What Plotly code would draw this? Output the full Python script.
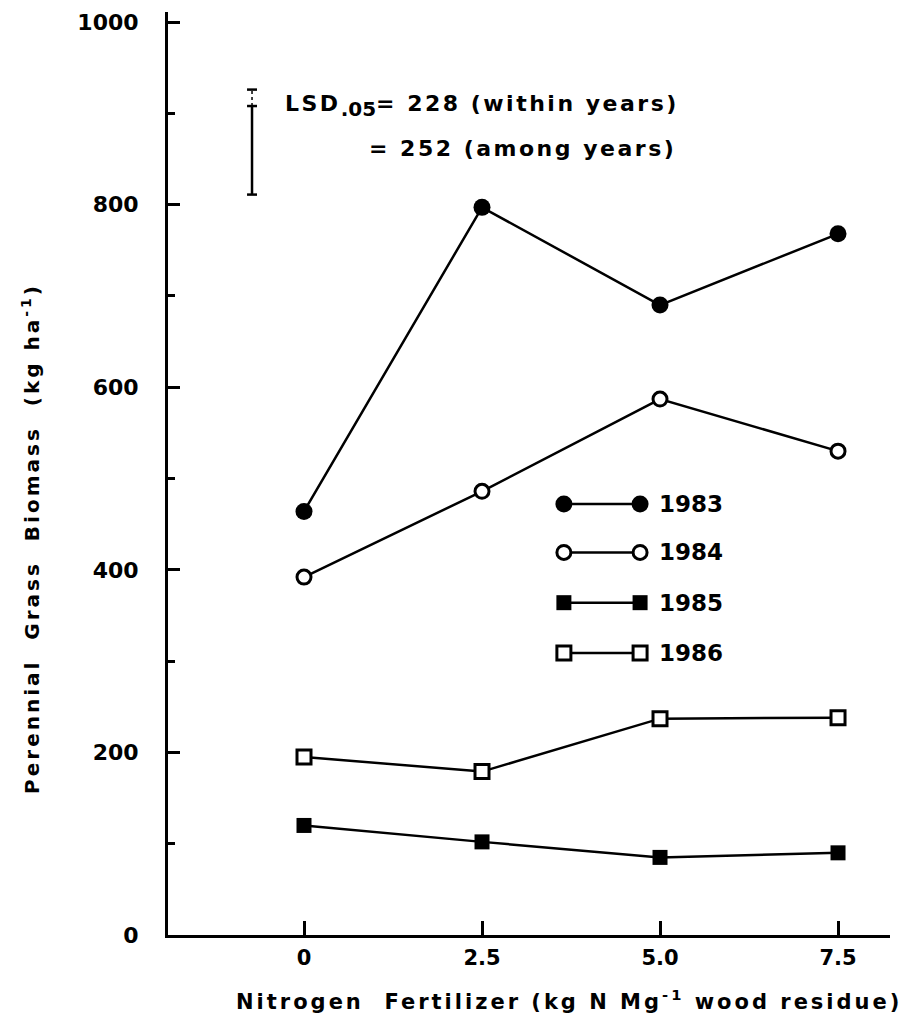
import plotly.graph_objects as go

# ---- data ----
nitrogen = [0, 2.5, 5.0, 7.5]
tick_labels = ["0", "2.5", "5.0", "7.5"]
years = ["1983", "1984", "1985", "1986"]
biomass_1983 = [464, 797, 690, 768]
biomass_1984 = [392, 486, 587, 530]
biomass_1985 = [120, 102, 85, 90]
biomass_1986 = [195, 179, 237, 238]
y_ticks = [0, 200, 400, 600, 800, 1000]

# LSD bar (data coordinates)
lsd_x = -0.73
lsd_low, lsd_mid, lsd_top = 811, 908, 926

# ---- styles ----
FONT = "DejaVu Sans"
styles = {
    "1983": dict(symbol="circle", size=17, color="black", line=dict(width=0, color="black")),
    "1984": dict(symbol="circle", size=14, color="white", line=dict(width=3, color="black")),
    "1985": dict(symbol="square", size=15, color="black", line=dict(width=0, color="black")),
    "1986": dict(symbol="square", size=14, color="white", line=dict(width=3, color="black")),
}
series = {"1983": biomass_1983, "1984": biomass_1984, "1985": biomass_1985, "1986": biomass_1986}

fig = go.Figure()
for yr in years:
    fig.add_trace(go.Scatter(x=nitrogen, y=series[yr], mode="lines+markers",
                             line=dict(color="black", width=2.5),
                             marker=styles[yr], showlegend=False, cliponaxis=False))

# custom legend (positions in data units)
leg_x0, leg_x1 = 3.65, 4.72
leg_rows = [472, 419, 364, 309]
for yr, ly in zip(years, leg_rows):
    fig.add_trace(go.Scatter(x=[leg_x0, leg_x1], y=[ly, ly], mode="lines+markers",
                             line=dict(color="black", width=2.5),
                             marker=styles[yr], showlegend=False))
    fig.add_annotation(x=4.96, y=ly, text=yr, showarrow=False, xanchor="left",
                       yanchor="middle",
                       font=dict(family=FONT, size=23, color="black", weight="bold"))

# LSD bar
fig.add_shape(type="line", x0=lsd_x, x1=lsd_x, y0=lsd_low, y1=lsd_mid,
              line=dict(color="black", width=2.5))
fig.add_shape(type="line", x0=lsd_x, x1=lsd_x, y0=lsd_mid, y1=lsd_top,
              line=dict(color="black", width=1.5, dash="dot"))
for yy in (lsd_low, lsd_mid, lsd_top):
    fig.add_shape(type="line", x0=lsd_x - 0.07, x1=lsd_x + 0.07, y0=yy, y1=yy,
                  line=dict(color="black", width=2.5))

sp = '<span style="letter-spacing:2.5px">'
fig.add_annotation(x=-0.3, y=908,
                   text=sp + "LSD</span><sub><span style=\"font-size:20px\">.05</span></sub>" + sp + "= 228 (within years)</span>",
                   showarrow=False, xanchor="left", yanchor="middle",
                   font=dict(family=FONT, size=22, color="black", weight="bold"))
fig.add_annotation(x=0.88, y=862, text=sp + "= 252 (among years)</span>",
                   showarrow=False, xanchor="left", yanchor="middle",
                   font=dict(family=FONT, size=22, color="black", weight="bold"))

# axis titles
fig.add_annotation(xref="paper", yref="paper", x=1.02, y=-0.07,
                   text='<span style="letter-spacing:3px">Nitrogen  Fertilizer (kg N Mg<sup>-1</sup> wood residue)</span>',
                   showarrow=False, xanchor="right", yanchor="middle",
                   font=dict(family=FONT, size=21, color="black", weight="bold"))
fig.add_annotation(xref="paper", yref="paper", x=-0.19, y=0.43,
                   text='<span style="letter-spacing:3px">Perennial  Grass  Biomass  (kg ha<sup>-1</sup>)</span>',
                   textangle=-90, showarrow=False, xanchor="center", yanchor="middle",
                   font=dict(family=FONT, size=20, color="black", weight="bold"))

fig.update_layout(
    width=904, height=1009,
    margin=dict(l=160, r=22, t=2, b=82),
    paper_bgcolor="white", plot_bgcolor="white",
    xaxis=dict(range=[-1.91, 8.23], showline=True, linewidth=3, linecolor="black",
               ticks="inside", ticklen=14, tickwidth=2.5, tickcolor="black",
               tickvals=nitrogen, ticktext=tick_labels, showgrid=False, zeroline=False,
               ticklabelstandoff=2, ticklabeloverflow="allow",
               tickfont=dict(family=FONT, size=21, color="black", weight="bold")),
    yaxis=dict(range=[0, 1011], showline=True, linewidth=3, linecolor="black",
               ticks="inside", ticklen=12, tickwidth=2.5, tickcolor="black",
               tickvals=y_ticks, showgrid=False, zeroline=False,
               ticklabelstandoff=22, ticklabeloverflow="allow",
               minor=dict(ticks="inside", ticklen=7, tickwidth=2.5, tickcolor="black",
                          dtick=100, tick0=0, showgrid=False),
               tickfont=dict(family=FONT, size=22, color="black", weight="bold")),
)

fig.write_html("out.html")
